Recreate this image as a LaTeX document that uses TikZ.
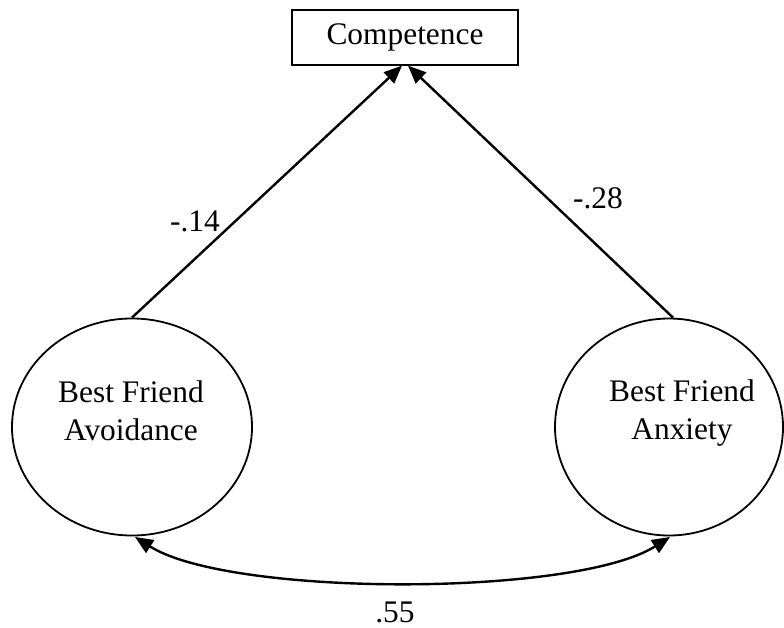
\documentclass[tikz,border=0pt]{standalone}
\usepackage{fontspec}
\setmainfont{Liberation Serif}
\usetikzlibrary{arrows.meta,shapes.geometric}
\tikzset{
  construct/.style={draw, ellipse, line width=1.8pt, minimum width=240pt, minimum height=217pt, inner sep=0pt},
  measure/.style={draw, rectangle, line width=1.3pt, minimum width=226pt, minimum height=55pt, inner sep=0pt},
  caption/.style={align=center, inner sep=0pt},
  coef/.style={inner sep=0pt},
  tipstyle/.style={Triangle[length=18pt,width=15pt]},
  path/.style={line width=2.4pt, -{Triangle[length=18pt,width=15pt]}},
  covpath/.style={line width=2.4pt, {Triangle[length=18pt,width=15pt]}-{Triangle[length=18pt,width=15pt]}}
}
\begin{document}
\begin{tikzpicture}[x=1pt,y=-1pt,font=\fontsize{31.4}{38}\selectfont]
\useasboundingbox (0,0) rectangle (784,628);

% outcome and the two latent constructs
\node[measure] (comp) at (405,37.5) {Competence};
\node[construct] (avoid) at (132,427) {};
\node[construct, minimum width=228pt] (anx) at (669,427) {};
\node[caption] (avoidtxt) at (131,411) {Best Friend\\Avoidance};
\node[caption] (anxtxt) at (682,413) {Best Friend\\Anxiety};

% regression paths
\coordinate (tipL) at ([xshift=-3pt]comp.south);
\coordinate (tipR) at ([xshift=3pt]comp.south);
\draw[path] (avoid.north) -- (tipL);
\draw[path] ([xshift=4pt]anx.north) -- (tipR);

% covariance between the constructs
\coordinate (covL) at (135,537);
\coordinate (covR) at (670,537);
\draw[covpath] (covL) .. controls (230,597) and (575,597) .. (covR);

% coefficients
\node[coef] (b1) at (195,221) {-.14};
\node[coef] (b2) at (598,198) {-.28};
\node[coef] (r12) at (395,612) {.55};
\end{tikzpicture}
\end{document}
